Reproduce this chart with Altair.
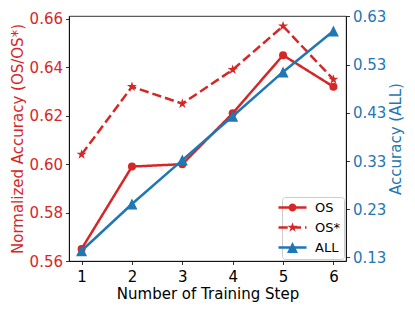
import math
import altair as alt
import pandas as pd

# ---- data ----
steps = [1, 2, 3, 4, 5, 6]
os_vals = [0.565, 0.599, 0.600, 0.621, 0.645, 0.632]
os_star_vals = [0.604, 0.632, 0.625, 0.639, 0.657, 0.635]
all_vals = [0.144, 0.241, 0.332, 0.423, 0.515, 0.600]
series_names = ["OS", "OS*", "ALL"]
left_ticks = [0.56, 0.58, 0.60, 0.62, 0.64, 0.66]
right_ticks = [0.13, 0.23, 0.33, 0.43, 0.53, 0.63]
x_ticks = [1, 2, 3, 4, 5, 6]

RED = "#d62728"
BLUE = "#1f77b4"
FONT = "DejaVu Sans"


def star_pts(R, inner=0.382):
    pts = []
    for k in range(10):
        ang = math.radians(-90 + 36 * k)
        r = R if k % 2 == 0 else R * inner
        pts.append((r * math.cos(ang), r * math.sin(ang)))
    return pts


def poly(pts):
    return "M" + "L".join(f"{x:.3f},{y:.3f}" for x, y in pts) + "Z"


def rect(x0, x1, h):
    return f"M{x0:.3f},{-h:.3f}H{x1:.3f}V{h:.3f}H{x0:.3f}Z"


def circ(r):
    return (f"M{-r:.3f},0A{r:.3f},{r:.3f},0,1,1,{r:.3f},0"
            f"A{r:.3f},{r:.3f},0,1,1,{-r:.3f},0Z")


STAR = poly(star_pts(1.0))
TRI = "M0,-1L1,1L-1,1Z"

# legend symbols (unit = 6 px, symbol size 144)
U = 6.0
half = 14 / U
lw = 1.25 / U
leg_os = rect(-half, half, lw) + circ(4 / U)
leg_star = (rect(-14 / U, -4.75 / U, lw) + rect(-0.75 / U, 8.5 / U, lw)
            + rect(12.5 / U, 14 / U, lw) + poly(star_pts(5.3 / U)))
leg_all = rect(-half, half, lw) + "M0,{:.3f}L{:.3f},{:.3f}L{:.3f},{:.3f}Z".format(
    -5.5 / U, 5.5 / U, 5.5 / U, -5.5 / U, 5.5 / U)

left_df = pd.DataFrame({
    "step": steps * 2,
    "value": os_vals + os_star_vals,
    "series": ["OS"] * len(steps) + ["OS*"] * len(steps),
})
right_df = pd.DataFrame({"step": steps, "value": all_vals, "series": ["ALL"] * len(steps)})

x_enc = alt.X("step:Q", scale=alt.Scale(domain=[0.75, 6.25], nice=False, zero=False),
              axis=alt.Axis(values=x_ticks, format="d", title="Number of Training Step",
                            labelPadding=5, titlePadding=2))

y_left = alt.Y("value:Q", scale=alt.Scale(domain=[0.56, 0.6612], nice=False, zero=False),
               axis=alt.Axis(values=left_ticks, format=".2f", orient="left",
                             title="Normalized Accuracy (OS/OS*)",
                             labelColor=RED, titleColor=RED, labelPadding=3, titlePadding=4))
y_right = alt.Y("value:Q", scale=alt.Scale(domain=[0.1227, 0.631], nice=False, zero=False),
                axis=alt.Axis(values=right_ticks, format=".2f", orient="right",
                              title="Accuracy (ALL)", titleAngle=270, titleBaseline="top",
                              labelColor=BLUE, titleColor=BLUE, labelPadding=3, titlePadding=3))

left_line = alt.Chart(left_df).mark_line(strokeWidth=2.5, color=RED).encode(
    x=x_enc, y=y_left,
    strokeDash=alt.StrokeDash("series:N", scale=alt.Scale(domain=["OS", "OS*"],
                                                          range=[[1, 0], [9.25, 4]]),
                              legend=None),
)
os_pts = alt.Chart(left_df).transform_filter("datum.series == 'OS'").mark_point(
    filled=True, opacity=1, size=64, shape="circle", color=RED, strokeWidth=0
).encode(x=x_enc, y=y_left)
star_pts_layer = alt.Chart(left_df).transform_filter("datum.series == 'OS*'").mark_point(
    filled=True, opacity=1, size=112, shape=STAR, color=RED, strokeWidth=0
).encode(x=x_enc, y=y_left)

leg = alt.Legend(title=None, orient="bottom-right", offset=2, padding=4,
                 fillColor="white", strokeColor="#cccccc", cornerRadius=3,
                 labelFont=FONT, labelFontSize=13, labelColor="black",
                 symbolSize=144, symbolStrokeWidth=0, symbolOpacity=1,
                 labelOffset=16, rowPadding=6)
legend_layer = alt.Chart(left_df).transform_filter("false").mark_point(
    filled=True, opacity=1, size=144
).encode(
    x=x_enc, y=y_left,
    color=alt.Color("series:N", scale=alt.Scale(domain=series_names, range=[RED, RED, BLUE]),
                    legend=leg),
    shape=alt.Shape("series:N", scale=alt.Scale(domain=series_names,
                                                range=[leg_os, leg_star, leg_all]),
                    legend=leg),
)

right_line = alt.Chart(right_df).mark_line(strokeWidth=2.5, color=BLUE).encode(x=x_enc, y=y_right)
right_pts = alt.Chart(right_df).mark_point(
    filled=True, opacity=1, size=121, shape=TRI, color=BLUE, strokeWidth=0
).encode(x=x_enc, y=y_right)

left = alt.layer(left_line, os_pts, star_pts_layer, legend_layer)
right = alt.layer(right_line, right_pts)

chart = alt.layer(left, right).resolve_scale(y="independent").properties(
    width=277, height=245,
    autosize=alt.AutoSizeParams(type="none"),
    padding={"left": 61, "top": 8, "right": 61, "bottom": 42},
).configure_axis(
    labelFont=FONT, titleFont=FONT, labelFontSize=15, titleFontSize=15,
    titleFontWeight="normal", tickColor="black", domainColor="black",
    tickSize=3.5, tickWidth=0.8, domainWidth=0.8, grid=False, labelColor="black",
    titleColor="black",
).configure_view(stroke="black", strokeWidth=0.8)

chart.save("out.html", embed_options={"renderer": "svg", "actions": False})
